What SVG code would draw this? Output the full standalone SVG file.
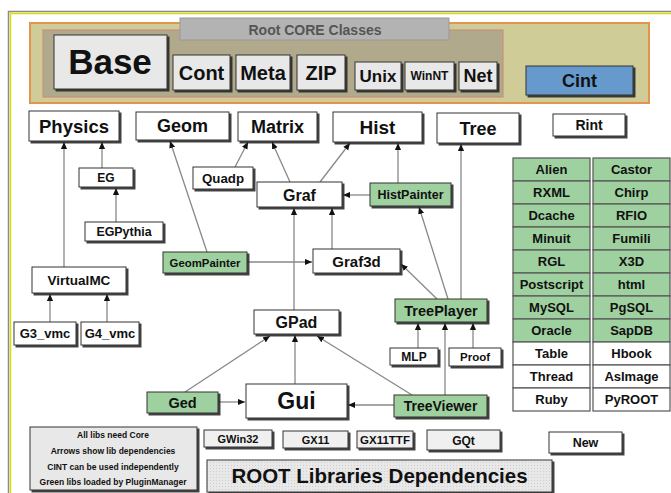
<svg xmlns="http://www.w3.org/2000/svg" width="671" height="493" viewBox="0 0 671 493">
<defs>
<filter id="sh" x="-10%" y="-10%" width="130%" height="140%"><feDropShadow dx="2" dy="2" stdDeviation="0.4" flood-color="#222" flood-opacity="0.85"/></filter>
<marker id="ar" viewBox="0 0 8 8" refX="8" refY="4" markerWidth="7" markerHeight="7" markerUnits="userSpaceOnUse" orient="auto"><path d="M0,0.5 L8,4 L0,7.5 z" fill="#111"/></marker>
<pattern id="dots" width="3" height="3" patternUnits="userSpaceOnUse"><rect width="3" height="3" fill="#e8e8e8"/><rect width="1" height="1" fill="#cfcfcf"/></pattern>
</defs>
<style>
text{font-family:"Liberation Sans",Arial,sans-serif;font-weight:bold;fill:#111;text-anchor:middle}
.b{fill:#fff;stroke:#333;stroke-width:1;filter:url(#sh)}
.g{fill:#9fd09f;stroke:#333;stroke-width:1;filter:url(#sh)}
.l{fill:#e8e8e8;stroke:#333;stroke-width:1;filter:url(#sh)}
.c{fill:#fff;stroke:#555;stroke-width:1.2}
.cg{fill:#9fd09f;stroke:#555;stroke-width:1.2}
.e{stroke:#888;stroke-width:1.3;fill:none;marker-end:url(#ar)}
</style>
<rect width="671" height="493" fill="#fff"/>
<rect x="8.5" y="11.5" width="680" height="500" fill="none" stroke="#8a8a8a" stroke-width="1.5"/>
<rect x="10.5" y="13.5" width="680" height="500" fill="none" stroke="#d8e000" stroke-width="1.5"/>
<g id="core">
<rect x="30" y="23" width="619" height="80" fill="#cfcc98" stroke="#e39550" stroke-width="2"/>
<rect x="43" y="30" width="460" height="67" fill="#b1a98c" stroke="#c8907c" stroke-width="1.2"/>
<rect x="180" y="18" width="269" height="22" fill="#b3b3b3" stroke="#999" stroke-width="1"/>
<text x="315" y="35" font-size="14" style="fill:#555">Root CORE Classes</text>
</g>
<g id="Base"><rect class="l" x="54" y="35" width="113" height="54"/><text x="110" y="74" font-size="35">Base</text></g>
<g id="Cont"><rect class="l" x="173" y="55" width="57" height="35"/><text x="201.5" y="80" font-size="20">Cont</text></g>
<g id="Meta"><rect class="l" x="236" y="55" width="54" height="35"/><text x="263" y="80" font-size="20">Meta</text></g>
<g id="ZIP"><rect class="l" x="297" y="55" width="48" height="35"/><text x="321" y="80" font-size="20">ZIP</text></g>
<g id="Unix"><rect class="l" x="355" y="62" width="46" height="28"/><text x="378" y="82" font-size="17">Unix</text></g>
<g id="WinNT"><rect class="l" x="405" y="62" width="49" height="28"/><text x="429.5" y="80" font-size="12">WinNT</text></g>
<g id="Net"><rect class="l" x="459" y="62" width="38" height="28"/><text x="478" y="82" font-size="18">Net</text></g>
<g id="Cint"><rect x="526" y="66" width="107" height="29" fill="#6699cc" stroke="#333" stroke-width="1" filter="url(#sh)"/><text x="579.5" y="86.5" font-size="18">Cint</text></g>

<g id="connectors">
<line class="e" x1="64" y1="267" x2="64" y2="142"/>
<line class="e" x1="102" y1="168" x2="102" y2="142"/>
<line class="e" x1="116" y1="222" x2="116" y2="188"/>
<line class="e" x1="207" y1="252" x2="170" y2="141"/>
<line class="e" x1="235" y1="167" x2="248" y2="142"/>
<line class="e" x1="290" y1="182" x2="272" y2="142"/>
<line class="e" x1="320" y1="182" x2="350" y2="143"/>
<line class="e" x1="398" y1="183" x2="398" y2="143"/>
<line class="e" x1="370" y1="195" x2="343" y2="195"/>
<line class="e" x1="247" y1="262" x2="312" y2="262"/>
<line class="e" x1="332" y1="249" x2="332" y2="208"/>
<line class="e" x1="294" y1="310" x2="294" y2="208"/>
<line class="e" x1="437" y1="299" x2="401" y2="264"/>
<line class="e" x1="448" y1="299" x2="419" y2="207"/>
<line class="e" x1="461" y1="299" x2="461" y2="144"/>
<line class="e" x1="418" y1="348" x2="418" y2="323"/>
<line class="e" x1="473" y1="348" x2="473" y2="323"/>
<line class="e" x1="445" y1="395" x2="445" y2="323"/>
<line class="e" x1="412" y1="395" x2="317" y2="336"/>
<line class="e" x1="394" y1="405" x2="348" y2="405"/>
<line class="e" x1="295" y1="384" x2="295" y2="335"/>
<line class="e" x1="185" y1="392" x2="270" y2="336"/>
<line class="e" x1="218" y1="402" x2="245" y2="402"/>
<line class="e" x1="50" y1="322" x2="50" y2="294"/>
<line class="e" x1="107" y1="322" x2="107" y2="294"/>
</g>

<g id="Physics"><rect class="b" x="29" y="111" width="90" height="30"/><text x="74" y="132.5" font-size="18.5">Physics</text></g>
<g id="Geom"><rect class="b" x="136" y="112" width="93" height="28"/><text x="182.5" y="132" font-size="18">Geom</text></g>
<g id="Matrix"><rect class="b" x="238" y="112" width="79" height="29"/><text x="277.5" y="133" font-size="18">Matrix</text></g>
<g id="Hist"><rect class="b" x="333" y="112" width="89" height="30"/><text x="377.5" y="134" font-size="19">Hist</text></g>
<g id="Tree"><rect class="b" x="437" y="113" width="82" height="30"/><text x="478" y="134.5" font-size="18">Tree</text></g>
<g id="Rint"><rect class="b" x="553" y="114" width="72" height="22"/><text x="589" y="130" font-size="14">Rint</text></g>
<g id="EG"><rect class="b" x="79" y="168" width="54" height="19"/><text x="106" y="181.5" font-size="12">EG</text></g>
<g id="Quadp"><rect class="b" x="193" y="167" width="60" height="22"/><text x="223" y="182.5" font-size="13.3">Quadp</text></g>
<g id="EGPythia"><rect class="b" x="85" y="222" width="78" height="19"/><text x="124" y="236" font-size="12.4">EGPythia</text></g>
<g id="Graf"><rect class="b" x="257" y="182" width="85" height="25"/><text x="299.5" y="200.5" font-size="16">Graf</text></g>
<g id="HistPainter"><rect class="g" x="370" y="183" width="81" height="23"/><text x="410.5" y="199" font-size="12.5">HistPainter</text></g>
<g id="GeomPainter"><rect class="g" x="163" y="252" width="84" height="21"/><text x="205" y="266.5" font-size="11.4">GeomPainter</text></g>
<g id="Graf3d"><rect class="b" x="313" y="249" width="87" height="24"/><text x="356.5" y="266.5" font-size="15">Graf3d</text></g>
<g id="VirtualMC"><rect class="b" x="32" y="267" width="94" height="26"/><text x="79" y="285" font-size="13.5">VirtualMC</text></g>
<g id="G3_vmc"><rect class="b" x="14" y="322" width="62" height="23"/><text x="45" y="338" font-size="13">G3_vmc</text></g>
<g id="G4_vmc"><rect class="b" x="81" y="322" width="58" height="23"/><text x="110" y="338" font-size="13">G4_vmc</text></g>
<g id="GPad"><rect class="b" x="254" y="310" width="85" height="24"/><text x="296.5" y="327.5" font-size="16">GPad</text></g>
<g id="TreePlayer"><rect class="g" x="395" y="299" width="92" height="23"/><text x="441" y="315.5" font-size="14.5">TreePlayer</text></g>
<g id="MLP"><rect class="b" x="390" y="348" width="48" height="17"/><text x="414" y="361" font-size="12">MLP</text></g>
<g id="Proof"><rect class="b" x="449" y="348" width="52" height="18"/><text x="475" y="361" font-size="11.5">Proof</text></g>
<g id="Gui"><rect class="b" x="246" y="384" width="101" height="34"/><text x="296.5" y="409" font-size="23">Gui</text></g>
<g id="Ged"><rect class="g" x="147" y="392" width="71" height="21"/><text x="182.5" y="408" font-size="14.5">Ged</text></g>
<g id="TreeViewer"><rect class="g" x="394" y="395" width="93" height="22"/><text x="440.5" y="411" font-size="14">TreeViewer</text></g>

<g id="legend"><rect class="l" x="30" y="427" width="167" height="63"/>
<text x="113" y="438" font-size="8.5">All libs need Core</text>
<text x="113" y="454" font-size="8.5">Arrows show lib dependencies</text>
<text x="113" y="470" font-size="8.5">CINT can be used independently</text>
<text x="113" y="485" font-size="8.5">Green libs loaded by PluginManager</text>
</g>
<g id="GWin32"><rect class="l" x="204" y="430" width="68" height="17" style="fill:#f0f0f0"/><text x="238" y="442.5" font-size="11">GWin32</text></g>
<g id="GX11"><rect class="l" x="283" y="431" width="65" height="17" style="fill:#f0f0f0"/><text x="315.5" y="443.5" font-size="11">GX11</text></g>
<g id="GX11TTF"><rect class="l" x="357" y="431" width="56" height="17" style="fill:#f0f0f0"/><text x="385" y="443.5" font-size="11.5">GX11TTF</text></g>
<g id="GQt"><rect class="l" x="427" y="430" width="73" height="20" style="fill:#f0f0f0"/><text x="463.5" y="444.5" font-size="12">GQt</text></g>
<g id="New"><rect class="b" x="549" y="432" width="73" height="21"/><text x="585.5" y="447" font-size="12.5">New</text></g>
<g id="title"><rect x="207" y="460" width="345" height="32" fill="url(#dots)" stroke="#333" stroke-width="1" filter="url(#sh)"/><text x="379.5" y="483" font-size="20.5">ROOT Libraries Dependencies</text></g>

<g id="plugins" font-size="13">
<g id="Alien"><rect class="cg" x="513" y="158" width="77" height="23"/><text x="551.5" y="174">Alien</text></g>
<g id="Castor"><rect class="cg" x="593" y="158" width="77" height="23"/><text x="631.5" y="174">Castor</text></g>
<g id="RXML"><rect class="cg" x="513" y="181" width="77" height="23"/><text x="551.5" y="197">RXML</text></g>
<g id="Chirp"><rect class="cg" x="593" y="181" width="77" height="23"/><text x="631.5" y="197">Chirp</text></g>
<g id="Dcache"><rect class="cg" x="513" y="204" width="77" height="23"/><text x="551.5" y="220">Dcache</text></g>
<g id="RFIO"><rect class="cg" x="593" y="204" width="77" height="23"/><text x="631.5" y="220">RFIO</text></g>
<g id="Minuit"><rect class="cg" x="513" y="227" width="77" height="23"/><text x="551.5" y="243">Minuit</text></g>
<g id="Fumili"><rect class="cg" x="593" y="227" width="77" height="23"/><text x="631.5" y="243">Fumili</text></g>
<g id="RGL"><rect class="cg" x="513" y="250" width="77" height="23"/><text x="551.5" y="266">RGL</text></g>
<g id="X3D"><rect class="cg" x="593" y="250" width="77" height="23"/><text x="631.5" y="266">X3D</text></g>
<g id="Postscript"><rect class="cg" x="513" y="273" width="77" height="23"/><text x="551.5" y="289">Postscript</text></g>
<g id="html"><rect class="cg" x="593" y="273" width="77" height="23"/><text x="631.5" y="289">html</text></g>
<g id="MySQL"><rect class="cg" x="513" y="296" width="77" height="23"/><text x="551.5" y="312">MySQL</text></g>
<g id="PgSQL"><rect class="cg" x="593" y="296" width="77" height="23"/><text x="631.5" y="312">PgSQL</text></g>
<g id="Oracle"><rect class="cg" x="513" y="319" width="77" height="23"/><text x="551.5" y="335">Oracle</text></g>
<g id="SapDB"><rect class="cg" x="593" y="319" width="77" height="23"/><text x="631.5" y="335">SapDB</text></g>
<g id="Table"><rect class="c" x="513" y="342" width="77" height="23"/><text x="551.5" y="358">Table</text></g>
<g id="Hbook"><rect class="c" x="593" y="342" width="77" height="23"/><text x="631.5" y="358">Hbook</text></g>
<g id="Thread"><rect class="c" x="513" y="365" width="77" height="23"/><text x="551.5" y="381">Thread</text></g>
<g id="AsImage"><rect class="c" x="593" y="365" width="77" height="23"/><text x="631.5" y="381">AsImage</text></g>
<g id="Ruby"><rect class="c" x="513" y="388" width="77" height="23"/><text x="551.5" y="404">Ruby</text></g>
<g id="PyROOT"><rect class="c" x="593" y="388" width="77" height="23"/><text x="631.5" y="404">PyROOT</text></g>
</g>
</svg>
